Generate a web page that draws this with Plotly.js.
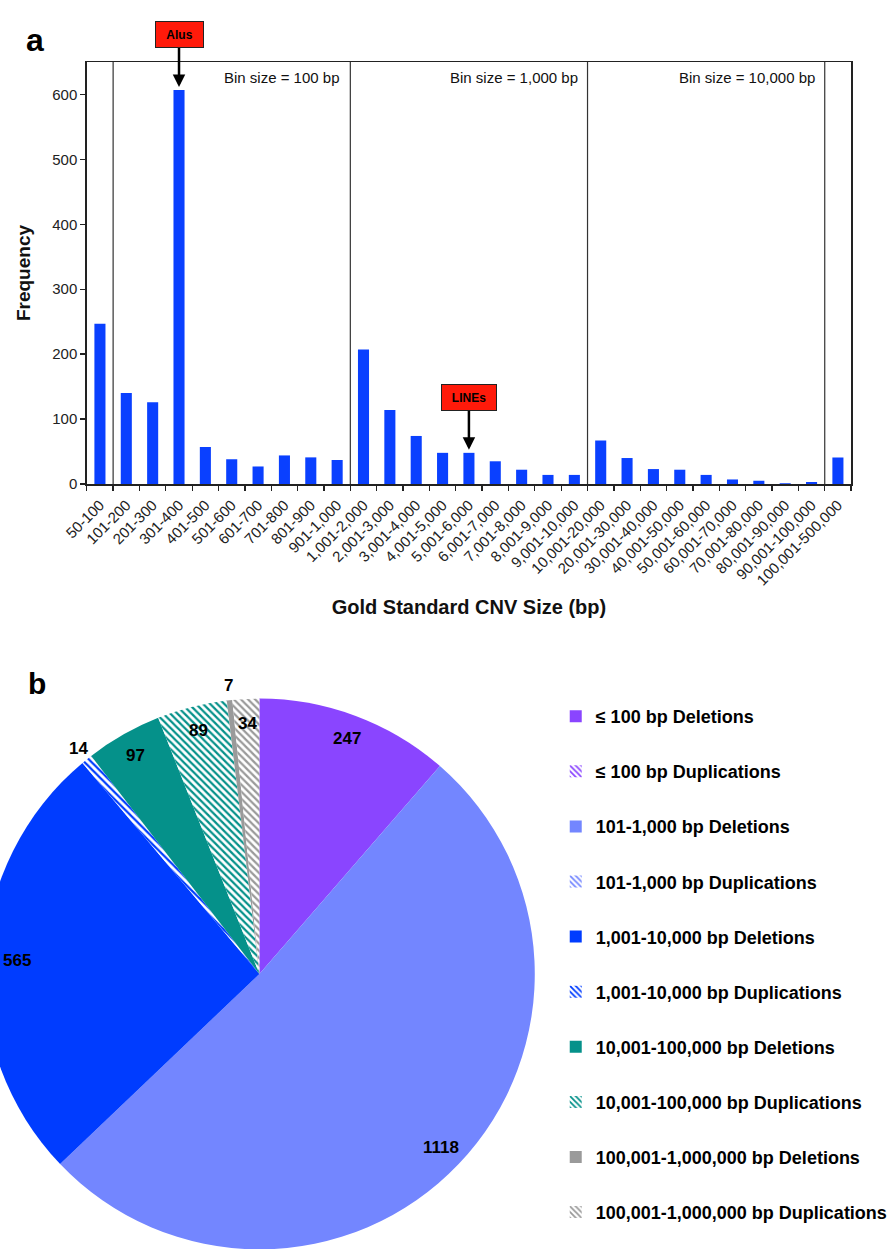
<!DOCTYPE html>
<html><head><meta charset="utf-8">
<script src="https://cdn.plot.ly/plotly-3.0.1.min.js"></script>
<style>
html,body{margin:0;padding:0;overflow:hidden;background:#fff;width:893px;height:1249px;position:relative}
#chart{position:absolute;left:-20px;top:0;width:913px;height:1252px}
</style>
</head><body><div id="chart"></div>
<script>
// ---------- Data: panel a ----------
const categories = ['50-100','101-200','201-300','301-400','401-500','501-600','601-700','701-800','801-900','901-1,000',
  '1,001-2,000','2,001-3,000','3,001-4,000','4,001-5,000','5,001-6,000','6,001-7,000','7,001-8,000','8,001-9,000','9,001-10,000',
  '10,001-20,000','20,001-30,000','30,001-40,000','40,001-50,000','50,001-60,000','60,001-70,000','70,001-80,000','80,001-90,000','90,001-100,000',
  '100,001-500,000'];
const frequency = [247,140,126,607,57,38,27,44,41,37,
  207,114,74,48,48,35,22,14,14,
  67,40,23,22,14,7,5,1,3,
  41];
const groupLabels = ['Bin size = 100 bp','Bin size = 1,000 bp','Bin size = 10,000 bp'];
const groupBoundaries = [0.5, 9.5, 18.5, 27.5];   // category-index boundaries between bin groups
const calloutLabels = ['Alus','LINEs'];
const calloutCategories = ['301-400','5,001-6,000'];

// ---------- Data: panel b ----------
const pieLabels = ['≤ 100 bp Deletions','≤ 100 bp Duplications','101-1,000 bp Deletions','101-1,000 bp Duplications',
  '1,001-10,000 bp Deletions','1,001-10,000 bp Duplications','10,001-100,000 bp Deletions','10,001-100,000 bp Duplications',
  '100,001-1,000,000 bp Deletions','100,001-1,000,000 bp Duplications'];
const pieValues = [247,0,1118,0,565,14,97,89,7,34];
const pieColors = ['#8a45ff','#8a45ff','#7386ff','#7386ff','#003cff','#003cff','#05918a','#05918a','#9a9a9a','#9a9a9a'];
const pieDuplication = [false,true,false,true,false,true,false,true,false,true];

// ---------- Layout helpers ----------
const W = 913, H = 1252, OFFX = 20;
const px2x = p => (p + OFFX) / W;
const py2y = p => 1 - p / H;
const FONT = 'Liberation Sans, Arial, Helvetica, sans-serif';

const plot = {l: 87, r: 853, t: 62, b: 484};
const pie = {cx: 260, cy: 974, r: 276};

const patternOf = (dup, col) => dup
  ? {shape: '\\', fgcolor: col, bgcolor: '#ffffff', size: 5, solidity: 0.45}
  : {shape: ''};

const traces = [];
traces.push({
  type: 'bar', x: categories, y: frequency, width: 0.42,
  marker: {color: '#0a40ff', line: {width: 0}},
  xaxis: 'x', yaxis: 'y', showlegend: false, hoverinfo: 'skip'
});
traces.push({
  type: 'pie', values: pieValues, labels: pieLabels, sort: false, direction: 'clockwise', rotation: 0,
  textinfo: 'none', hoverinfo: 'skip', showlegend: false,
  marker: {
    colors: pieColors, line: {width: 0},
    pattern: {
      shape: pieDuplication.map(d => d ? '\\' : ''),
      fgcolor: pieColors,
      bgcolor: pieDuplication.map((d, i) => d ? '#ffffff' : pieColors[i]),
      size: 5, solidity: 0.45
    }
  },
  domain: {x: [px2x(pie.cx - pie.r), px2x(pie.cx + pie.r)], y: [py2y(pie.cy + pie.r), py2y(pie.cy - pie.r)]}
});
// legend entries (dummy bars on hidden axes)
pieLabels.forEach((lab, i) => {
  traces.push({
    type: 'bar', x: [null], y: [null], name: lab, legendgroup: 'g' + i, showlegend: true,
    marker: {color: pieDuplication[i] ? '#ffffff' : pieColors[i], pattern: patternOf(pieDuplication[i], pieColors[i]), line: {width: 0}},
    xaxis: 'x2', yaxis: 'y2', hoverinfo: 'skip'
  });
});

const annotations = [];
// bin size labels
groupLabels.forEach((t, i) => {
  annotations.push({
    text: t, x: groupBoundaries[i + 1], xref: 'x', y: py2y(78), yref: 'paper',
    xanchor: 'right', yanchor: 'middle', xshift: -8, showarrow: false,
    font: {family: FONT, size: 15, color: '#111'}
  });
});
// callouts
calloutLabels.forEach((t, i) => {
  const c = calloutCategories[i];
  annotations.push({
    text: t, x: c, xref: 'x', y: frequency[categories.indexOf(c)], yref: 'y',
    showarrow: true, ax: 0, ay: -55, arrowhead: 2, arrowsize: 1, arrowwidth: 2.5, arrowcolor: '#000', standoff: 3,
    font: {family: FONT, size: 12, color: '#000', weight: 'bold'},
    bgcolor: '#ff1a0a', bordercolor: '#222', borderwidth: 1, width: 17 + 7 * t.length, height: 23
  });
});
// panel letters
annotations.push({text: 'a', x: px2x(24), y: py2y(20), xref: 'paper', yref: 'paper', showarrow: false,
  font: {family: FONT, size: 32, color: '#000', weight: 'bold'}});
annotations.push({text: 'b', x: px2x(26), y: py2y(683), xref: 'paper', yref: 'paper', showarrow: false,
  font: {family: FONT, size: 30, color: '#000', weight: 'bold'}});
// pie value labels
const total = pieValues.reduce((a, b) => a + b, 0);
let cum = 0;
pieValues.forEach((v, i) => {
  const frac = v / total;
  const mid = (cum + frac / 2) * 2 * Math.PI;
  cum += frac;
  if (v === 0) return;
  const rr = (frac < 0.01 ? 1.05 : 0.91) * pie.r;
  const px = Math.max(pie.cx + rr * Math.sin(mid), 17);
  const py = pie.cy - rr * Math.cos(mid);
  annotations.push({text: String(v), x: px2x(px), y: py2y(py), xref: 'paper', yref: 'paper', showarrow: false,
    xanchor: 'center', yanchor: 'middle', font: {family: FONT, size: 17, color: '#000', weight: 'bold'}});
});

const shapes = groupBoundaries.map(b => ({
  type: 'line', xref: 'x', yref: 'y domain', x0: b, x1: b, y0: 0, y1: 1,
  line: {color: '#333', width: 1.2}
}));

const layout = {
  width: W, height: H, margin: {l: 0, r: 0, t: 0, b: 0},
  paper_bgcolor: '#fff', plot_bgcolor: 'rgba(0,0,0,0)',
  font: {family: FONT, color: '#111'},
  xaxis: {
    domain: [px2x(plot.l), px2x(plot.r)], anchor: 'y', type: 'category',
    tickangle: -45, tickson: 'boundaries', ticks: 'outside', ticklen: 5, tickwidth: 1.3, tickcolor: '#222',
    ticklabelstandoff: 5,
    showline: true, linecolor: '#222', linewidth: 1.5, mirror: true, showgrid: false,
    tickfont: {family: FONT, size: 15, color: '#222'},
    title: {text: 'Gold Standard CNV Size (bp)', standoff: 12, font: {family: FONT, size: 20, color: '#111', weight: 'bold'}}
  },
  yaxis: {
    domain: [py2y(plot.b), py2y(plot.t)], anchor: 'x', range: [0, 650], dtick: 100,
    ticks: 'outside', ticklen: 5, tickwidth: 1.3, tickcolor: '#222',
    showline: true, linecolor: '#222', linewidth: 1.5, mirror: true, showgrid: false, zeroline: false,
    tickfont: {family: FONT, size: 15, color: '#222'},
    title: {text: 'Frequency', standoff: 16, font: {family: FONT, size: 19, color: '#111', weight: 'bold'}}
  },
  xaxis2: {domain: [0.985, 0.99], anchor: 'y2', visible: false},
  yaxis2: {domain: [0.985, 0.99], anchor: 'x2', visible: false},
  showlegend: true,
  legend: {
    x: px2x(557), y: py2y(698), xanchor: 'left', yanchor: 'top',
    traceorder: 'grouped', tracegroupgap: 28.7, bgcolor: 'rgba(0,0,0,0)',
    font: {family: FONT, size: 18, color: '#000', weight: 'bold'}
  },
  annotations: annotations, shapes: shapes
};

Plotly.newPlot('chart', traces, layout, {staticPlot: true, displayModeBar: false});
</script></body></html>
